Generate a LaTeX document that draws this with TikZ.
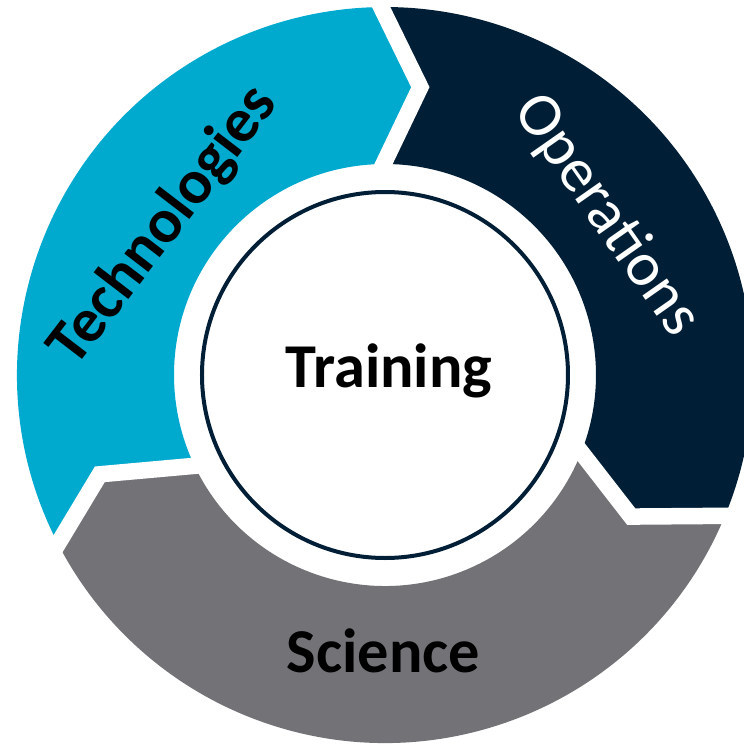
\documentclass[tikz,border=0pt]{standalone}
\usepackage{fontspec}
\setmainfont{Carlito}
\usepackage{tikz}
\usetikzlibrary{calc}

\definecolor{techblue}{RGB}{0,169,206}
\definecolor{opsnavy}{RGB}{0,31,54}
\definecolor{scigray}{RGB}{115,114,119}

\begin{document}
\begin{tikzpicture}[
    gapline/.style={white,line width=0.33cm,line join=miter},
    ringtext/.style={font=\bfseries\fontsize{35.5}{40}\selectfont,anchor=base}]
\useasboundingbox (-7.70,-7.38) rectangle (7.18,7.50);
\clip (-7.70,-7.38) rectangle (7.18,7.50);

%meje med segmenti
\coordinate (top-out) at (90.6:7.36);
\coordinate (top-in) at (90.4:4.22);
\coordinate (top-tip) at (83:5.80);
\coordinate (right-out) at (-22.5:7.36);
\coordinate (right-in) at (-21.5:4.22);
\coordinate (right-tip) at (-29.9:5.68);
\coordinate (left-out) at (207.3:7.36);
\coordinate (left-in) at (205.5:4.22);
\coordinate (left-tip) at (199.2:6.04);

%segmenti
\fill[techblue] (left-out) arc[start angle=207.3,end angle=90.6,radius=7.36] -- (top-tip) -- (top-in) arc[start angle=90.4,end angle=205.5,radius=4.22] -- (left-tip) -- cycle;
\fill[opsnavy] (top-out) arc[start angle=90.6,end angle=-22.5,radius=7.36] -- (right-tip) -- (right-in) arc[start angle=-21.5,end angle=90.4,radius=4.22] -- (top-tip) -- cycle;
\fill[scigray] (right-out) arc[start angle=-22.5,end angle=-152.7,radius=7.36] -- (left-tip) -- (left-in) arc[start angle=-154.5,end angle=-21.5,radius=4.22] -- (right-tip) -- cycle;

%beli razmiki
\foreach \b in {top,right,left}
  \draw[gapline] ($(\b-tip)!1.15!(\b-out)$) -- (\b-tip) -- ($(\b-tip)!1.15!(\b-in)$);

%sredinski krog
\draw[opsnavy,line width=0.08cm,fill=white] (0,0) circle (3.66);

%napisi
\node[ringtext] (training) at (0.08,-0.24) {Training};
\node[ringtext] (science) at (-0.03,-5.94) {Science};
\node[ringtext,rotate=52.5] (tech) at (-4.15,2.78) {Technologies};
\node[ringtext,rotate=-55,white,font=\fontsize{35.5}{40}\selectfont] (ops) at (4.16,3.0) {Operations};

\end{tikzpicture}
\end{document}
